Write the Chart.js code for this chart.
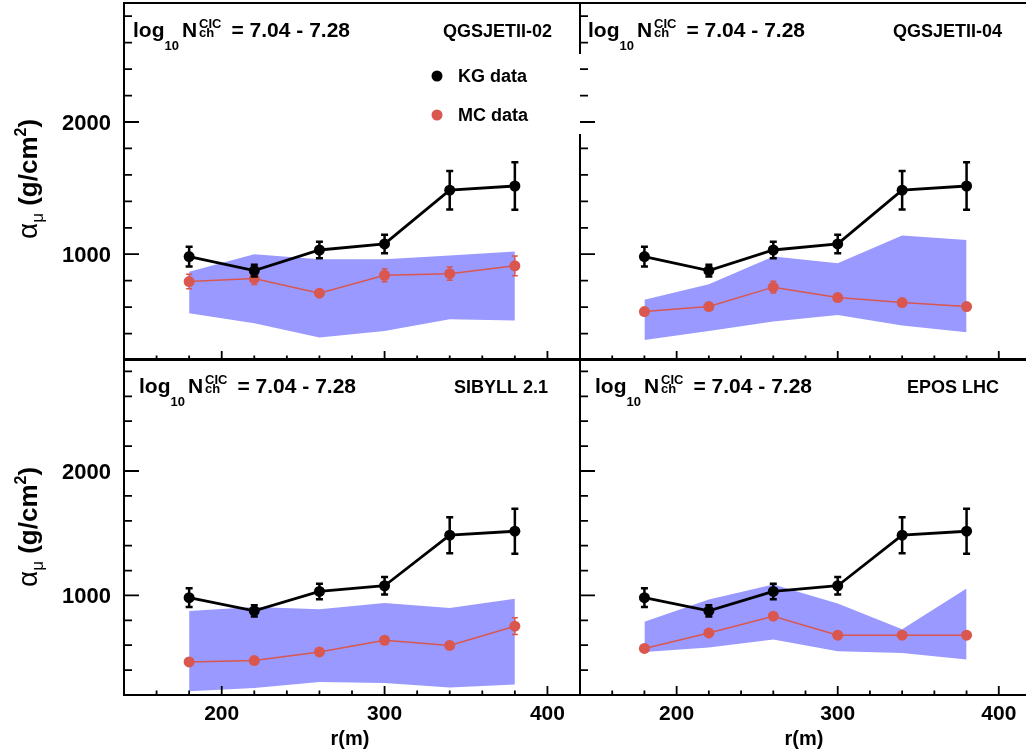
<!DOCTYPE html>
<html>
<head>
<meta charset="utf-8">
<title>alpha_mu vs r</title>
<script src="https://cdn.jsdelivr.net/npm/chart.js@4.4.1/dist/chart.umd.min.js"></script>
<style>
    html, body { margin: 0; padding: 0; background: #fff; overflow: hidden; }
    #wrap { position: relative; width: 1026px; height: 754px; overflow: hidden; }
    #wrap canvas { position: absolute; left: 0; top: 0; }
</style>
</head>
<body>
<div id="wrap">
    <canvas id="pQ02" width="1040" height="754"></canvas>
    <canvas id="pQ04" width="1040" height="754"></canvas>
    <canvas id="pSib" width="1040" height="754"></canvas>
    <canvas id="pEpos" width="1040" height="754"></canvas>
</div>
<script>
// 数据: 距离 r(m)
const radius = [180, 220, 260, 300, 340, 380];

// KG 实验数据 (四个图相同)
const kgAlpha = [982, 876, 1032, 1078, 1484, 1516];
const kgError = [75, 45, 62, 70, 145, 180];

// QGSJETII-02
const qgs02Mc = [793, 816, 705, 841, 853, 912];
const qgs02McError = [55, 45, 15, 50, 50, 75];
const qgs02BandHigh = [868, 1000, 962, 962, 990, 1020];
const qgs02BandLow = [554, 478, 370, 420, 509, 498];

// QGSJETII-04
const qgs04Mc = [566, 604, 751, 672, 634, 604];
const qgs04McError = [20, 18, 44, 20, 18, 20];
const qgs04BandHigh = [655, 773, 982, 932, 1141, 1108];
const qgs04BandLow = [352, 420, 491, 541, 460, 410];

// SIBYLL 2.1
const sibMc = [466, 477, 546, 640, 598, 753];
const sibMcError = [20, 20, 20, 25, 25, 67];
const sibBandHigh = [874, 908, 890, 940, 900, 973];
const sibBandLow = [230, 257, 305, 297, 260, 284];

// EPOS LHC
const eposMc = [574, 699, 833, 681, 681, 681];
const eposMcError = [15, 20, 25, 15, 15, 15];
const eposBandHigh = [788, 968, 1088, 936, 729, 1056];
const eposBandLow = [546, 582, 646, 552, 538, 485];

// 坐标轴
const xRange = [140, 420];
const yRange = [200, 2900];
const xTickLabels = [200, 300, 400];
const yTickLabels = [1000, 2000];
const nchRange = '= 7.04 - 7.28';

const FONT = '"Liberation Sans", Arial, Helvetica, sans-serif';
const MC_COLOR = '#d9574e';
const BAND_COLOR = '#9999ff';
const CANVAS_W = 1040, CANVAS_H = 754;

const panels = [
    { id: 'pQ02', model: 'QGSJETII-02', mc: qgs02Mc, mcErr: qgs02McError, hi: qgs02BandHigh, lo: qgs02BandLow,
      area: { left: 124, top: 3, right: 580, bottom: 360 }, yLabels: true, xLabels: false,
      nchX: 133, modelX: 443, legend: true, yTitleY: 179 },
    { id: 'pQ04', model: 'QGSJETII-04', mc: qgs04Mc, mcErr: qgs04McError, hi: qgs04BandHigh, lo: qgs04BandLow,
      area: { left: 580, top: 3, right: 1031, bottom: 360 }, yLabels: false, xLabels: false,
      nchX: 588, modelX: 893, legendGap: true },
    { id: 'pSib', model: 'SIBYLL 2.1', mc: sibMc, mcErr: sibMcError, hi: sibBandHigh, lo: sibBandLow,
      area: { left: 124, top: 359, right: 580, bottom: 695 }, yLabels: true, xLabels: true,
      nchX: 139, modelX: 454, yTitleY: 527, xTitleX: 350 },
    { id: 'pEpos', model: 'EPOS LHC', mc: eposMc, mcErr: eposMcError, hi: eposBandHigh, lo: eposBandLow,
      area: { left: 580, top: 359, right: 1031, bottom: 695 }, yLabels: false, xLabels: true,
      nchX: 595, modelX: 907, xTitleX: 804 }
];

function toPoints(values) {
    return radius.map((r, i) => ({ x: r, y: values[i] }));
}

function drawErrorBars(chart, values, errors, color, width, cap) {
    const { ctx, scales: { x, y } } = chart;
    ctx.save();
    ctx.strokeStyle = color;
    ctx.lineWidth = width;
    radius.forEach((r, i) => {
        const px = x.getPixelForValue(r);
        const top = y.getPixelForValue(values[i] + errors[i]);
        const bot = y.getPixelForValue(values[i] - errors[i]);
        ctx.beginPath();
        ctx.moveTo(px, top); ctx.lineTo(px, bot);
        ctx.moveTo(px - cap, top); ctx.lineTo(px + cap, top);
        ctx.moveTo(px - cap, bot); ctx.lineTo(px + cap, bot);
        ctx.stroke();
    });
    ctx.restore();
}

// log10 N_ch^CIC = ...
function drawNchLabel(ctx, x0, base) {
    const big = 'bold 21px ' + FONT;
    const small = 'bold 13px ' + FONT;
    let cx = x0;
    ctx.font = big;
    ctx.fillText('log', cx, base);
    cx += ctx.measureText('log').width;
    ctx.font = small;
    ctx.fillText('10', cx, base + 13);
    cx += ctx.measureText('10').width + 3;
    ctx.font = big;
    ctx.fillText('N', cx, base);
    cx += ctx.measureText('N').width + 2;
    ctx.font = small;
    ctx.fillText('CIC', cx, base - 9);
    ctx.fillText('ch', cx, base);
    cx += ctx.measureText('CIC').width + 10;
    ctx.font = big;
    ctx.fillText(nchRange, cx, base);
}

// 竖排标题 α_μ (g/cm²)
function drawYTitle(ctx, bx, cy) {
    const parts = [
        { t: 'α', font: '28px ' + FONT, dy: 0 },
        { t: 'μ', font: '17px ' + FONT, dy: 6 },
        { t: ' (g/cm', font: 'bold 26px ' + FONT, dy: 0 },
        { t: '2', font: 'bold 16px ' + FONT, dy: -11 },
        { t: ')', font: 'bold 26px ' + FONT, dy: 0 }
    ];
    let total = 0;
    parts.forEach(p => { ctx.font = p.font; p.w = ctx.measureText(p.t).width; total += p.w; });
    ctx.save();
    ctx.translate(bx, cy);
    ctx.rotate(-Math.PI / 2);
    ctx.textAlign = 'left';
    let x = -total / 2;
    parts.forEach(p => { ctx.font = p.font; ctx.fillText(p.t, x, p.dy); x += p.w; });
    ctx.restore();
}

function makeDecor(cfg) {
    return {
        id: 'decor_' + cfg.id,
        afterDatasetDraw(chart, args) {
            // 误差棒画在点的下面
            if (args.index === 2) drawErrorBars(chart, cfg.mc, cfg.mcErr, MC_COLOR, 1.5, 3);
            if (args.index === 1) drawErrorBars(chart, kgAlpha, kgError, '#000', 2.5, 3.5);
        },
        afterDraw(chart) {
            const { ctx, chartArea: a, scales: { x, y } } = chart;
            ctx.save();
            ctx.fillStyle = '#000';
            ctx.strokeStyle = '#000';

            // 边框
            ctx.lineWidth = 2;
            ctx.strokeRect(a.left, a.top, a.right - a.left, a.bottom - a.top);

            // 图例框遮住的边框
            if (cfg.legendGap) {
                ctx.fillStyle = '#fff';
                ctx.fillRect(a.left - 3, 54, 6, 80);
                ctx.fillStyle = '#000';
            }

            // 刻度 (向内)
            ctx.lineWidth = 1.8;
            ctx.beginPath();
            for (let v = 400; v < yRange[1]; v += 200) {
                const py = y.getPixelForValue(v);
                const len = v % 1000 === 0 ? 15 : 8;
                ctx.moveTo(a.left, py); ctx.lineTo(a.left + len, py);
            }
            for (let v = 160; v < xRange[1]; v += 20) {
                const px = x.getPixelForValue(v);
                const len = v % 100 === 0 ? 9 : 4.5;
                ctx.moveTo(px, a.bottom); ctx.lineTo(px, a.bottom - len);
            }
            ctx.stroke();

            // 刻度标签
            if (cfg.yLabels) {
                ctx.font = 'bold 22px ' + FONT;
                ctx.textAlign = 'right';
                yTickLabels.forEach(v => ctx.fillText(String(v), a.left - 13, y.getPixelForValue(v) + 8));
                drawYTitle(ctx, 37, cfg.yTitleY);
            }
            if (cfg.xLabels) {
                ctx.font = 'bold 21px ' + FONT;
                ctx.textAlign = 'center';
                xTickLabels.forEach(v => ctx.fillText(String(v), x.getPixelForValue(v), a.bottom + 25));
                ctx.font = 'bold 20px ' + FONT;
                ctx.fillText('r(m)', cfg.xTitleX, 745);
            }

            // 注释文字
            ctx.textAlign = 'left';
            drawNchLabel(ctx, cfg.nchX, a.top + 34);
            ctx.font = 'bold 18px ' + FONT;
            ctx.fillText(cfg.model, cfg.modelX, a.top + 34);

            // 图例
            if (cfg.legend) {
                ctx.font = 'bold 18px ' + FONT;
                ctx.beginPath(); ctx.arc(437, 76, 5.5, 0, Math.PI * 2); ctx.fill();
                ctx.fillText('KG data', 458, 82);
                ctx.fillStyle = MC_COLOR;
                ctx.beginPath(); ctx.arc(437, 115, 5.5, 0, Math.PI * 2); ctx.fill();
                ctx.fillStyle = '#000';
                ctx.fillText('MC data', 458, 121);
            }
            ctx.restore();
        }
    };
}

function buildPanel(cfg) {
    const ctx = document.getElementById(cfg.id).getContext('2d');
    return new Chart(ctx, {
        type: 'line',
        data: {
            datasets: [
                {
                    label: 'KG data', data: toPoints(kgAlpha),
                    borderColor: '#000', backgroundColor: '#000', borderWidth: 2.8,
                    pointRadius: 5.5, pointBorderWidth: 0, fill: false
                },
                {
                    label: 'MC data', data: toPoints(cfg.mc),
                    borderColor: MC_COLOR, backgroundColor: MC_COLOR, borderWidth: 1.5,
                    pointRadius: 5.5, pointBorderWidth: 0, fill: false
                },
                {
                    label: 'MC band high', data: toPoints(cfg.hi),
                    borderColor: 'rgba(0,0,0,0)', backgroundColor: BAND_COLOR, borderWidth: 0,
                    pointRadius: 0, fill: '+1'
                },
                {
                    label: 'MC band low', data: toPoints(cfg.lo),
                    borderColor: 'rgba(0,0,0,0)', borderWidth: 0, pointRadius: 0, fill: false
                }
            ]
        },
        options: {
            responsive: false,
            animation: false,
            devicePixelRatio: 1,
            events: [],
            layout: {
                autoPadding: false,
                padding: {
                    left: cfg.area.left,
                    top: cfg.area.top,
                    right: CANVAS_W - cfg.area.right,
                    bottom: CANVAS_H - cfg.area.bottom
                }
            },
            elements: { line: { tension: 0 } },
            scales: {
                x: { type: 'linear', min: xRange[0], max: xRange[1], display: false },
                y: { type: 'linear', min: yRange[0], max: yRange[1], display: false }
            },
            plugins: {
                legend: { display: false },
                tooltip: { enabled: false }
            }
        },
        plugins: [makeDecor(cfg)]
    });
}

const charts = panels.map(buildPanel);
</script>
</body>
</html>
